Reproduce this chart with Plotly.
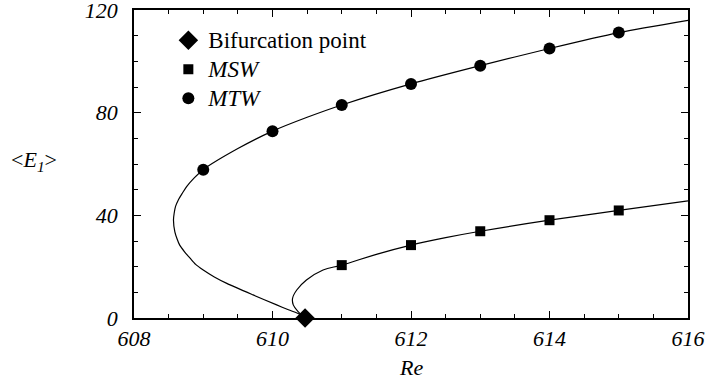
import plotly.graph_objects as go

# --- data ---
bif_re = [610.47]
bif_e = [0]

msw_re = [611, 612, 613, 614, 615]
msw_e = [20.6, 28.4, 33.8, 38.1, 41.9]

mtw_re = [609, 610, 611, 612, 613, 614, 615]
mtw_e = [57.8, 72.8, 83.0, 91.2, 98.3, 105.0, 111.2]

# curve samples
msw_curve_re = [610.47, 610.37, 610.30, 610.29, 610.35, 610.49, 610.73, 611.0, 611.5, 612, 612.5, 613, 614, 615, 616]
msw_curve_e = [0, 2.5, 5.1, 7.7, 10.9, 14.8, 18.7, 20.6, 24.8, 28.4, 31.3, 33.8, 38.1, 41.9, 45.6]

mtw_curve_re = [610.47, 610.40, 610.23, 610.06, 609.72, 609.34, 609.16, 609.0, 608.89, 608.81, 608.73, 608.66, 608.62, 608.59, 608.57, 608.58, 608.60, 608.64, 608.70, 608.76, 608.87, 609.0, 609.5, 610, 610.5, 611, 612, 613, 614, 615, 616]
mtw_curve_e = [0, 1.4, 3.2, 5.1, 9.0, 13.5, 16.0, 18.7, 20.9, 23.3, 25.8, 28.4, 31.0, 33.6, 38.2, 40.8, 43.5, 46.0, 48.7, 51.2, 54.6, 57.8, 66.0, 72.8, 78.2, 83.0, 91.2, 98.3, 105.0, 111.2, 116.0]

x_ticks = [608, 610, 612, 614, 616]
y_ticks = [0, 40, 80, 120]

legend_names = ["Bifurcation point", "<i>MSW</i>", "<i>MTW</i>"]

FONT = "Liberation Serif, Times New Roman, Times, serif"
FS = 22


def big(s):
    return '<span style="font-size:23px">%s</span>' % s


fig = go.Figure()
fig.add_trace(go.Scatter(x=mtw_curve_re, y=mtw_curve_e, mode="lines", line=dict(color="black", width=1.2, shape="spline", smoothing=0.7), showlegend=False, hoverinfo="skip"))
fig.add_trace(go.Scatter(x=msw_curve_re, y=msw_curve_e, mode="lines", line=dict(color="black", width=1.2, shape="spline", smoothing=1.0), showlegend=False, hoverinfo="skip"))
fig.add_trace(go.Scatter(x=bif_re, y=bif_e, mode="markers", name=big(legend_names[0]), marker=dict(symbol="diamond", size=15, color="black"), cliponaxis=False))
fig.add_trace(go.Scatter(x=msw_re, y=msw_e, mode="markers", name=big(legend_names[1]), marker=dict(symbol="square", size=10, color="black")))
fig.add_trace(go.Scatter(x=mtw_re, y=mtw_e, mode="markers", name=big(legend_names[2]), marker=dict(symbol="circle", size=12, color="black")))

axis_common = dict(
    showgrid=False, zeroline=False, showline=True, linecolor="black", linewidth=1.8,
    mirror="ticks", ticks="inside", ticklen=7, tickwidth=1.3, tickcolor="black",
    automargin=False, ticklabeloverflow="allow",
    tickfont=dict(family=FONT, size=FS, color="black", style="italic"),
)
fig.update_xaxes(range=[608, 616], tickvals=x_ticks, ticktext=[str(v) for v in x_ticks],
                 minor=dict(dtick=0.5, ticks="inside", ticklen=4, tickwidth=1.3, tickcolor="black"),
                 ticklabelstandoff=0, **axis_common)
fig.update_yaxes(range=[0, 120], tickvals=y_ticks, ticktext=[str(v) for v in y_ticks],
                 minor=dict(dtick=10, ticks="inside", ticklen=4, tickwidth=1.3, tickcolor="black"),
                 ticklabelstandoff=10, **axis_common)

fig.add_annotation(text="<i>Re</i>", xref="paper", yref="paper", x=0.5, y=-0.162, showarrow=False,
                   font=dict(family=FONT, size=FS, color="black"), yanchor="middle")
fig.add_annotation(text="&lt;<i>E</i><sub><i>1</i></sub>&gt;", xref="paper", yref="paper", x=-0.18, y=0.51,
                   showarrow=False, font=dict(family=FONT, size=FS, color="black"), xanchor="center", yanchor="middle")

fig.update_layout(
    template="none",
    width=707, height=384,
    margin=dict(l=134, r=19, t=10, b=66),
    plot_bgcolor="white", paper_bgcolor="white",
    font=dict(family=FONT, size=FS, color="black"),
    legend=dict(x=0.062, y=0.965, xanchor="left", yanchor="top", bgcolor="rgba(0,0,0,0)",
                font=dict(family=FONT, size=20, color="black"), itemwidth=30, tracegroupgap=0),
)

fig.write_html("out.html", config={"displayModeBar": False},
               post_script="document.body.style.margin='0px';")
